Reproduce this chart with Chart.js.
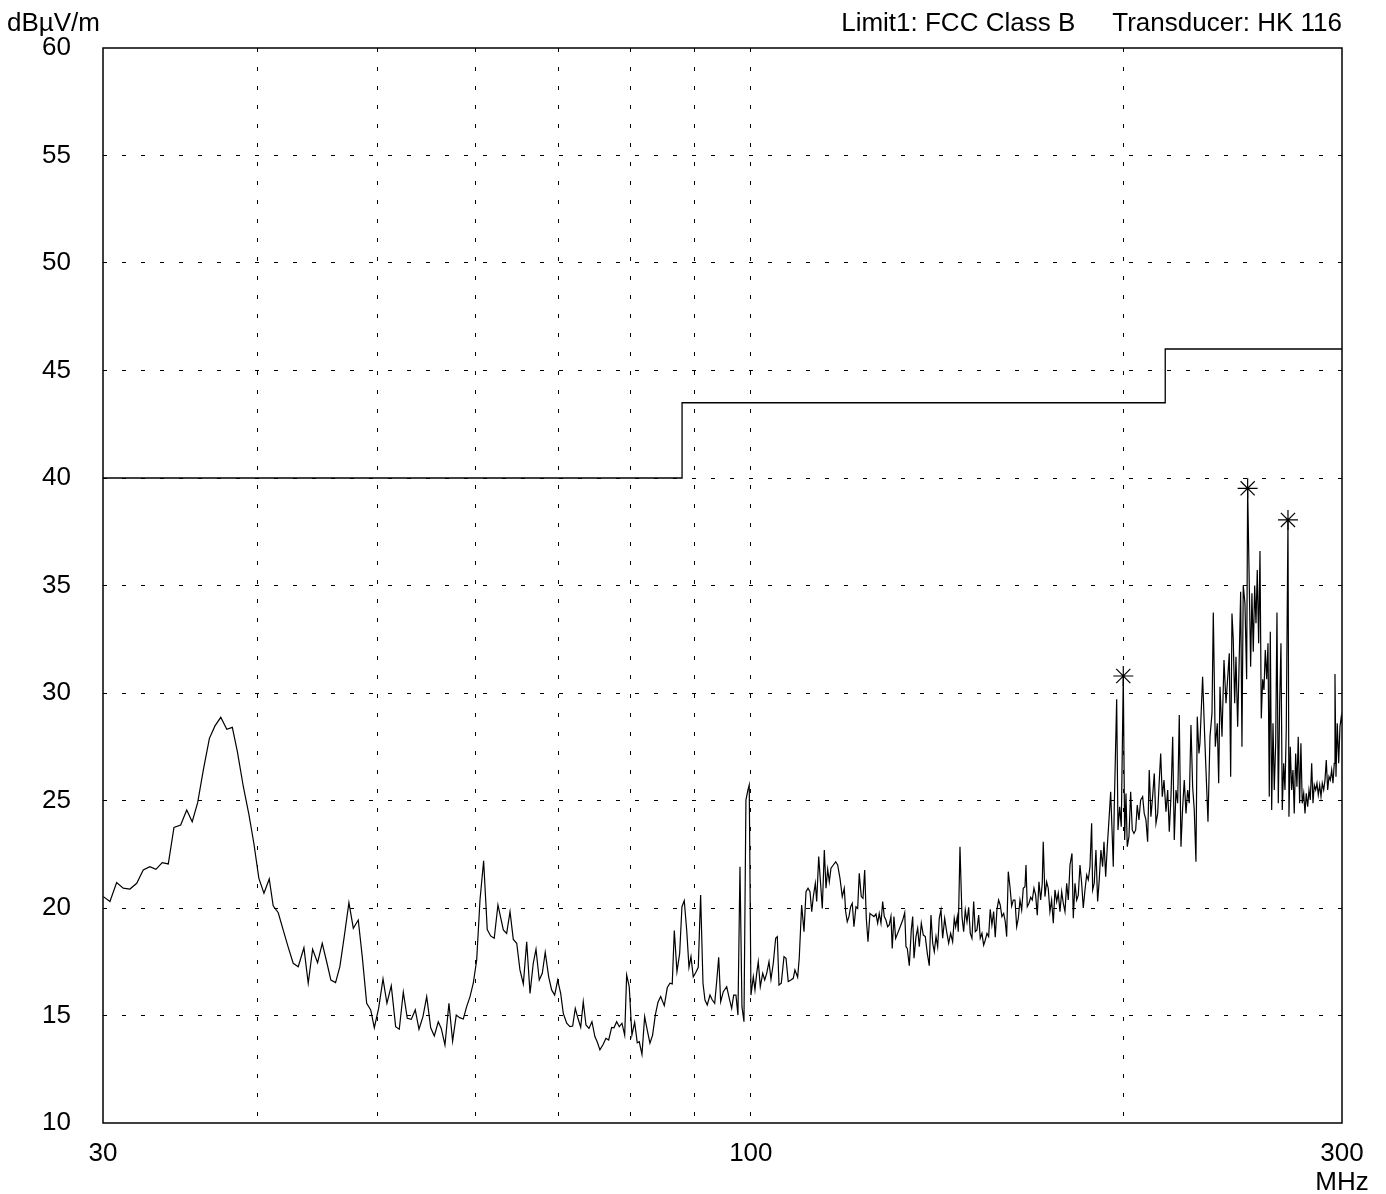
<!DOCTYPE html>
<html>
<head>
<meta charset="utf-8">
<script src="https://cdn.jsdelivr.net/npm/chart.js@4.4.1/dist/chart.umd.min.js"></script>
<style>
html, body { margin: 0; padding: 0; background: #fff; }
canvas { display: block; }
</style>
</head>
<body>
<canvas id="emi" width="1386" height="1194"></canvas>
<script>
// Radiated emission scan, 30–300 MHz (frequency in MHz, level in dBµV/m)
const freqMHz = [
  30.02, 30.39, 30.77, 31.15, 31.54, 31.94, 32.33, 32.73, 33.10, 33.49,
  33.87, 34.23, 34.66, 35.05, 35.41, 35.77, 36.15, 36.56, 36.94, 37.34,
  37.76, 38.15, 38.51, 38.94, 39.35, 39.71, 40.08, 40.46, 40.86, 41.16,
  41.55, 41.93, 42.33, 42.72, 43.12, 43.58, 43.93, 44.29, 44.70, 45.09,
  45.46, 45.82, 46.22, 46.59, 46.97, 47.38, 47.77, 48.21, 48.57, 48.97,
  49.34, 49.67, 50.07, 50.48, 50.85, 51.26, 51.68, 52.03, 52.42, 52.81,
  53.20, 53.60, 53.97, 54.37, 54.75, 55.16, 55.53, 55.94, 56.25, 56.64,
  57.06, 57.45, 57.84, 58.21, 58.60, 58.97, 59.34, 59.70, 60.08, 60.45,
  60.86, 61.27, 61.66, 62.07, 62.50, 63.13, 63.52, 63.92, 64.31, 64.72,
  65.11, 65.52, 65.93, 66.34, 66.74, 67.08, 67.49, 67.87, 68.24, 68.68,
  69.06, 69.45, 69.84, 70.23, 70.57, 71.02, 71.45, 71.81, 72.16, 72.52,
  72.89, 73.24, 73.61, 74.02, 74.43, 74.84, 75.16, 75.54, 76.01, 76.39,
  76.78, 77.21, 77.54, 77.93, 78.31, 78.70, 79.10, 79.39, 79.77, 80.17,
  80.58, 80.97, 81.27, 81.68, 82.09, 82.48, 82.90, 83.31, 83.73, 84.15,
  84.57, 85.14, 85.62, 86.05, 86.41, 86.74, 87.17, 87.61, 87.98, 88.36,
  88.76, 89.14, 89.47, 89.85, 90.25, 90.69, 91.09, 91.49, 91.83, 92.22,
  92.69, 93.09, 93.50, 93.85, 94.20, 94.55, 95.01, 95.61, 96.07, 96.50,
  96.86, 97.27, 97.63, 98.00, 98.36, 98.73, 99.09, 99.46, 99.70, 100.02,
  100.46, 100.77, 101.09, 101.39, 101.77, 102.23, 102.61, 102.99, 103.43, 103.81,
  104.26, 104.72, 105.04, 105.37, 105.82, 106.35, 106.75, 107.20, 107.74, 108.20,
  108.54, 109.09, 109.41, 109.90, 110.38, 110.80, 111.21, 111.62, 111.98, 112.31,
  112.73, 113.02, 113.44, 113.86, 114.20, 114.63, 114.99, 115.35, 115.70, 116.06,
  116.56, 117.08, 117.51, 118.02, 118.52, 118.96, 119.27, 119.62, 120.00, 120.38,
  120.74, 121.12, 121.57, 121.96, 122.32, 122.78, 123.17, 123.56, 123.93, 124.32,
  124.78, 125.24, 125.71, 126.18, 126.58, 126.95, 127.36, 127.76, 128.14, 128.54,
  128.95, 129.33, 129.74, 130.05, 130.46, 130.88, 131.36, 131.85, 132.61, 133.10,
  133.42, 133.74, 134.24, 134.74, 135.09, 135.42, 135.92, 136.35, 136.76, 137.27,
  137.78, 138.29, 138.81, 139.32, 139.76, 140.21, 140.62, 141.07, 141.51, 141.93,
  142.38, 142.83, 143.36, 143.89, 144.43, 144.96, 145.50, 145.94, 146.32, 146.77,
  147.03, 147.50, 148.05, 148.51, 148.96, 149.43, 149.90, 150.35, 150.82, 151.30,
  151.75, 152.23, 152.71, 153.16, 153.65, 154.13, 154.59, 155.08, 155.57, 156.03,
  156.52, 157.02, 157.49, 157.98, 158.48, 158.95, 159.45, 159.98, 160.45, 160.87,
  161.35, 161.86, 162.37, 162.86, 163.37, 163.89, 164.38, 164.90, 165.42, 165.91,
  166.44, 166.75, 167.15, 167.68, 168.21, 168.71, 169.24, 169.77, 170.28, 170.82,
  171.36, 171.87, 172.18, 172.73, 173.27, 173.79, 174.33, 174.88, 175.43, 175.98,
  176.54, 177.06, 177.62, 178.19, 178.72, 179.28, 179.85, 180.39, 180.96, 181.63,
  182.07, 182.65, 183.22, 183.77, 184.35, 184.93, 185.48, 186.07, 186.66, 187.21,
  187.80, 188.39, 188.74, 189.30, 189.90, 190.50, 191.07, 191.67, 192.27, 192.76,
  193.37, 193.94, 194.56, 195.17, 195.75, 196.12, 196.48, 197.36, 197.84, 198.46,
  199.05, 199.80, 200.32, 200.80, 201.29, 201.92, 202.56, 203.16, 203.80, 204.45,
  205.06, 205.70, 206.35, 207.12, 207.73, 208.39, 209.05, 209.67, 210.33, 210.99,
  211.65, 212.32, 212.99, 213.63, 214.18, 214.82, 215.50, 216.30, 216.99, 217.63,
  218.32, 219.01, 219.66, 220.36, 221.05, 221.71, 222.41, 223.12, 223.78, 224.49,
  225.20, 225.86, 226.58, 227.29, 227.97, 228.69, 229.24, 229.96, 230.39, 231.54,
  232.43, 233.86, 234.73, 235.61, 236.18, 237.06, 237.94, 238.56, 239.14, 240.03,
  240.92, 241.82, 242.72, 243.30, 243.93, 244.52, 245.11, 245.75, 246.35, 247.12,
  247.86, 248.50, 249.10, 249.70, 250.49, 251.28, 251.75, 252.49, 253.15, 253.76,
  254.40, 255.06, 255.68, 256.29, 256.95, 257.59, 258.21, 258.88, 259.51, 260.14,
  260.82, 261.45, 262.08, 262.57, 263.25, 263.89, 264.52, 265.21, 265.85, 266.50,
  267.19, 267.83, 268.48, 269.18, 269.83, 270.48, 271.34, 271.84, 272.50, 273.20,
  273.86, 274.52, 275.24, 275.90, 276.57, 277.28, 277.95, 278.62, 279.38, 280.06,
  280.73, 281.47, 282.15, 282.83, 283.57, 284.25, 284.94, 285.68, 286.37, 287.07,
  287.81, 288.51, 289.21, 289.96, 290.66, 291.36, 292.12, 292.83, 293.54, 294.30,
  295.01, 295.72, 296.11, 296.66, 297.37, 298.15, 298.87, 299.59, 300.00
];
const levelDb = [
  20.53, 20.30, 21.18, 20.92, 20.88, 21.15, 21.77, 21.92, 21.80, 22.11,
  22.05, 23.75, 23.86, 24.56, 24.01, 24.90, 26.42, 27.89, 28.47, 28.87,
  28.31, 28.40, 27.27, 25.64, 24.33, 23.00, 21.38, 20.69, 21.35, 20.10,
  19.78, 18.98, 18.17, 17.43, 17.27, 18.15, 16.50, 18.08, 17.46, 18.36,
  17.50, 16.65, 16.53, 17.27, 18.67, 20.25, 19.06, 19.44, 17.74, 15.57,
  15.26, 14.43, 15.33, 16.70, 15.57, 16.39, 14.48, 14.36, 16.09, 14.87,
  14.82, 15.26, 14.36, 14.95, 15.88, 14.43, 14.05, 14.71, 14.40, 13.63,
  15.57, 13.81, 15.02, 14.90, 14.84, 15.41, 15.88, 16.50, 17.58, 20.37,
  22.20, 19.00, 18.70, 18.59, 20.14, 18.98, 18.82, 19.83, 18.54, 18.36,
  17.12, 16.47, 18.43, 16.03, 17.43, 18.08, 16.65, 16.96, 17.94, 16.80,
  16.19, 15.95, 16.65, 16.03, 15.10, 14.64, 14.48, 14.51, 15.33, 14.87,
  14.45, 15.64, 14.56, 14.40, 14.71, 14.02, 13.78, 13.40, 13.66, 13.94,
  13.86, 14.45, 14.43, 14.71, 14.48, 14.64, 14.09, 16.88, 16.34, 14.09,
  14.68, 13.73, 13.78, 13.19, 14.95, 14.33, 13.71, 14.09, 15.02, 15.62,
  15.88, 15.46, 16.30, 16.50, 16.47, 18.95, 17.04, 17.89, 20.06, 20.34,
  18.98, 17.24, 17.74, 16.80, 16.99, 17.24, 20.60, 16.50, 15.72, 15.49,
  15.95, 15.72, 15.57, 16.58, 17.71, 15.64, 16.11, 16.34, 15.80, 15.33,
  15.95, 15.95, 15.02, 21.92, 15.41, 14.71, 25.02, 25.49, 25.72, 15.95,
  16.80, 16.19, 16.96, 17.50, 16.34, 16.96, 16.65, 16.96, 17.50, 16.68,
  17.43, 18.59, 18.67, 16.42, 16.50, 17.74, 17.66, 16.58, 16.65, 16.73,
  17.12, 16.78, 17.66, 20.14, 18.90, 20.76, 20.92, 20.76, 19.83, 20.53,
  21.15, 20.30, 22.39, 21.07, 19.98, 22.70, 20.92, 21.80, 21.22, 21.85,
  22.00, 22.15, 22.00, 21.38, 20.53, 20.92, 19.83, 19.36, 19.60, 20.06,
  20.22, 19.13, 20.06, 19.98, 21.61, 20.53, 20.45, 21.77, 19.52, 18.43,
  19.75, 19.67, 19.60, 19.72, 19.29, 19.75, 19.29, 20.30, 19.60, 19.44,
  19.13, 19.21, 19.60, 18.12, 19.60, 18.59, 18.82, 19.06, 19.44, 19.78,
  18.20, 18.12, 17.32, 18.98, 19.60, 17.66, 18.67, 19.06, 18.20, 19.29,
  18.74, 18.67, 17.89, 17.32, 19.67, 18.36, 17.97, 18.67, 18.20, 19.52,
  19.91, 18.59, 19.52, 18.90, 18.36, 18.82, 18.43, 19.52, 19.13, 19.60,
  18.90, 22.85, 19.60, 18.90, 19.91, 19.36, 20.03, 18.82, 18.59, 20.30,
  18.90, 18.98, 19.67, 18.59, 18.82, 18.27, 18.50, 18.82, 18.67, 19.94,
  19.21, 19.83, 18.64, 19.91, 20.37, 20.14, 19.60, 19.75, 19.36, 18.67,
  21.69, 20.99, 20.09, 20.37, 20.37, 19.13, 19.52, 20.37, 19.91, 20.92,
  20.99, 22.00, 20.06, 20.22, 20.50, 20.37, 20.92, 20.60, 19.67, 21.22,
  20.37, 21.15, 23.08, 20.53, 21.22, 20.92, 19.83, 20.37, 19.29, 20.84,
  20.30, 20.69, 19.83, 20.76, 20.22, 19.83, 21.15, 20.37, 22.00, 22.54,
  19.52, 21.15, 20.37, 20.60, 22.00, 21.15, 20.00, 20.84, 21.54, 21.31,
  21.92, 23.94, 20.84, 21.15, 22.70, 20.30, 21.31, 22.70, 21.92, 23.08,
  21.46, 22.85, 24.10, 25.41, 23.32, 21.92, 24.71, 29.71, 23.63, 24.71,
  23.78, 30.79, 23.16, 25.33, 22.85, 23.32, 25.41, 23.63, 23.47, 23.63,
  24.79, 24.10, 25.02, 25.18, 24.40, 24.10, 23.08, 26.42, 24.25, 25.18,
  26.26, 23.94, 24.40, 25.95, 27.19, 25.18, 25.95, 24.48, 25.49, 23.55,
  25.18, 27.97, 23.16, 25.49, 24.87, 28.98, 22.85, 24.71, 25.95, 24.40,
  25.49, 24.87, 28.51, 25.64, 24.56, 22.15, 28.90, 27.19, 27.66, 30.76,
  27.97, 24.01, 27.97, 29.05, 33.74, 27.50, 28.59, 25.80, 30.29, 27.97,
  31.53, 29.52, 30.92, 31.85, 26.11, 33.70, 32.47, 29.52, 31.69, 28.43,
  31.69, 34.71, 27.50, 35.00, 34.17, 30.64, 39.52, 35.15, 31.22, 34.64,
  31.92, 35.00, 33.24, 35.72, 32.31, 36.60, 28.82, 30.64, 30.14, 32.00,
  30.64, 32.31, 25.18, 32.85, 24.56, 28.59, 25.49, 27.66, 33.74, 24.87,
  29.52, 32.31, 24.56, 26.73, 25.49, 28.28, 38.05, 24.25, 27.50, 25.49,
  26.42, 24.40, 27.19, 25.64, 27.97, 24.87, 27.66, 24.87, 25.34, 24.40,
  25.34, 24.71, 25.49, 25.03, 26.73, 24.87, 25.72, 25.49, 25.80, 25.26,
  25.72, 25.18, 25.80, 25.49, 25.95, 26.88, 25.49, 26.11, 25.95, 26.42,
  25.80, 26.73, 30.88, 26.11, 28.59, 26.73, 28.43, 28.90, 28.60
];

// FCC Class B limit: 40 dB up to 88 MHz, 43.5 dB up to 216 MHz, 46 dB above
const limitFreq = [30, 88, 216, 300];
const limitLevel = [40, 43.5, 46, 46];

// Peak markers
const markerFreq = [199.80, 251.75, 271.34];
const markerLevel = [30.79, 39.52, 38.05];

// Axis ticks
const xTickValues = [30, 40, 50, 60, 70, 80, 90, 100, 200, 300];
const xTickText = { 30: '30', 100: '100', 300: ['300', 'MHz'] };
const yMin = 10, yMax = 60, yStep = 5;

const unitText = 'dBµV/m';
const limitText = 'Limit1: FCC Class B';
const transducerText = 'Transducer: HK 116';

const FONT_FAMILY = '"Liberation Sans", Arial, Helvetica, sans-serif';
const FONT_SIZE = 26;

const toPoints = (xs, ys) => xs.map((x, i) => ({ x: x, y: ys[i] }));

const frameAndHeader = {
  id: 'frameAndHeader',
  afterDatasetsDraw(chart) {
    const { ctx, chartArea: a } = chart;
    ctx.save();
    ctx.strokeStyle = '#000';
    ctx.lineWidth = 1.5;
    ctx.strokeRect(a.left, a.top, a.right - a.left, a.bottom - a.top);
    ctx.restore();
  },
  afterDraw(chart) {
    const { ctx, chartArea: a } = chart;
    ctx.save();
    ctx.fillStyle = '#000';
    ctx.font = FONT_SIZE + 'px ' + FONT_FAMILY;
    ctx.textBaseline = 'alphabetic';
    ctx.textAlign = 'left';
    ctx.fillText(unitText, 7, 31);
    ctx.textAlign = 'right';
    ctx.fillText(transducerText, a.right, 31);
    const w = ctx.measureText(transducerText).width;
    ctx.fillText(limitText, a.right - w - 37, 31);
    ctx.restore();
  }
};

const gridDash = [4, 15];

new Chart(document.getElementById('emi'), {
  type: 'line',
  data: {
    datasets: [
      {
        label: 'Level',
        data: toPoints(freqMHz, levelDb),
        borderColor: '#000',
        borderWidth: 1.2,
        pointRadius: 0,
        tension: 0,
        fill: false,
        order: 2
      },
      {
        label: 'Limit1',
        data: toPoints(limitFreq, limitLevel),
        borderColor: '#000',
        borderWidth: 1.3,
        pointRadius: 0,
        stepped: 'before',
        fill: false,
        order: 1
      },
      {
        label: 'Peaks',
        data: toPoints(markerFreq, markerLevel),
        showLine: false,
        pointStyle: 'star',
        pointRadius: 10,
        pointBorderColor: '#000',
        pointBorderWidth: 1.2,
        pointBackgroundColor: 'transparent',
        order: 0
      }
    ]
  },
  options: {
    responsive: false,
    devicePixelRatio: 1,
    animation: false,
    events: [],
    layout: { padding: { top: 48, right: 44, bottom: 0, left: 0 } },
    plugins: {
      legend: { display: false },
      tooltip: { enabled: false },
      title: { display: false }
    },
    scales: {
      x: {
        type: 'logarithmic',
        min: 30,
        max: 300,
        afterBuildTicks(scale) {
          scale.ticks = xTickValues.map(v => ({ value: v }));
        },
        afterFit(scale) { scale.height = 71; },
        ticks: {
          autoSkip: false,
          maxRotation: 0,
          minRotation: 0,
          padding: 16,
          color: '#000',
          font: { family: FONT_FAMILY, size: FONT_SIZE, lineHeight: 1.12 },
          callback(value) { return xTickText[value] !== undefined ? xTickText[value] : ''; }
        },
        grid: {
          drawTicks: false,
          lineWidth: 1,
          color(ctx) {
            const v = ctx.tick ? ctx.tick.value : null;
            return (v === 30 || v === 300) ? 'rgba(0,0,0,0)' : '#000';
          }
        },
        border: { display: false, dash: gridDash }
      },
      y: {
        type: 'linear',
        min: yMin,
        max: yMax,
        afterFit(scale) { scale.width = 103; },
        ticks: {
          stepSize: yStep,
          padding: 32,
          color: '#000',
          font: { family: FONT_FAMILY, size: FONT_SIZE }
        },
        grid: {
          drawTicks: false,
          lineWidth: 1,
          color(ctx) {
            const v = ctx.tick ? ctx.tick.value : null;
            return (v === yMin || v === yMax) ? 'rgba(0,0,0,0)' : '#000';
          }
        },
        border: { display: false, dash: gridDash }
      }
    }
  },
  plugins: [frameAndHeader]
});
</script>
</body>
</html>
